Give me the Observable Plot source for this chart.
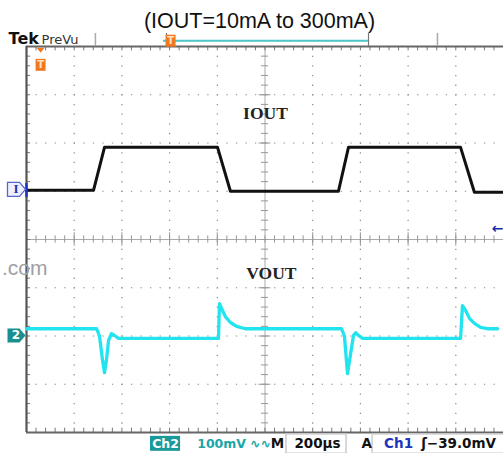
<!DOCTYPE html>
<html><head><meta charset="utf-8">
<script src="https://cdn.jsdelivr.net/npm/d3@7"></script>
<script src="https://cdn.jsdelivr.net/npm/@observablehq/plot@0.6"></script>
<style>
body{margin:0;background:#fff;width:503px;height:453px;overflow:hidden;font-family:Arial,"Liberation Sans",sans-serif}
#title{height:19px;padding-top:11px;line-height:20px;text-align:center;font-size:21.5px;padding-left:16px;color:#111;white-space:nowrap}
#chart svg{display:block}
</style></head><body>
<div id="title">(IOUT=10mA to 300mA)</div>
<div id="chart"></div>
<script>
// IOUT trace (black, channel 1): time in µs from the left edge, level in screen divisions
const ioutTime = [0, 281, 327, 801, 855, 1308, 1350, 1820, 1878, 2000];
const ioutDiv  = [1.02, 1.02, 1.91, 1.91, 1.0, 1.0, 1.91, 1.91, 0.98, 0.98];

// VOUT trace (cyan, channel 2)
const voutTime = [0, 294, 306, 319, 327, 335, 344, 356, 369, 386, 805, 809, 818, 834, 855, 881, 918,
                  1321, 1333, 1346, 1358, 1371, 1380, 1392, 1409, 1820, 1828, 1841, 1858, 1878, 1904, 1937, 1975];
const voutDiv  = [-1.85, -1.85, -2.0, -2.51, -2.76, -2.51, -2.09, -1.95, -1.99, -2.05, -2.05, -1.33, -1.43, -1.6, -1.72, -1.8, -1.85,
                  -1.85, -2.0, -2.78, -2.4, -1.99, -1.93, -1.99, -2.05, -2.05, -1.37, -1.47, -1.64, -1.74, -1.82, -1.85, -1.85];

// graticule (200 µs/div, 10 x 8 divisions)
const gridX = [200, 400, 600, 800, 1200, 1400, 1600, 1800];
const gridY = [-3, -2, -1, 1, 2, 3];
const minorX = d3.range(0, 2001, 40);
const minorY = d3.range(-20, 21).map(i => i / 5);

// labels
const traceLabels = [{t: 1002, v: 2.61, s: "IOUT"}, {t: 1027, v: -0.70, s: "VOUT"}];
const bottomTeal = [{t: 818, s: "100mV"}, {t: 981, s: "∿∿"}];
const bottomBlack = [{t: 1052, s: "M"}, {t: 1220, s: "200µs"}, {t: 1426, s: "A"}];

const iout = ioutTime.map((t, i) => ({t, v: ioutDiv[i]}));
const vout = voutTime.map((t, i) => ({t, v: voutDiv[i]}));

const pent = {draw(c){ c.moveTo(-9,-7); c.lineTo(3,-7); c.lineTo(9,0); c.lineTo(3,7); c.lineTo(-9,7); c.closePath(); }};
const box  = {draw(c){ c.moveTo(-5,-6); c.lineTo(5,-6); c.lineTo(5,6); c.lineTo(-5,6); c.closePath(); }};
const tri  = {draw(c){ c.moveTo(-4,-2.5); c.lineTo(4,-2.5); c.lineTo(0,2.5); c.closePath(); }};

const F = "DejaVu Sans, Verdana, sans-serif";

const chart = Plot.plot({
  width: 503, height: 423,
  marginLeft: 26, marginRight: 0, marginTop: 16, marginBottom: 21,
  x: {domain: [0, 2000], axis: null},
  y: {domain: [-4, 4], axis: null},
  style: {background: "#fff", overflow: "visible"},
  marks: [
    // dotted graticule
    Plot.ruleX(gridX, {stroke: "#8a8a8a", strokeWidth: 1.2, strokeDasharray: "1.3,8.35"}),
    Plot.ruleY(gridY, {stroke: "#8a8a8a", strokeWidth: 1.2, strokeDasharray: "1.3,8.24"}),
    // centre cross with ticks
    Plot.ruleX([1000], {stroke: "#aaa", strokeWidth: 1}),
    Plot.ruleY([0], {stroke: "#aaa", strokeWidth: 1}),
    Plot.ruleX(minorX, {y1: -0.075, y2: 0.075, stroke: "#999", strokeWidth: 1}),
    Plot.ruleY(minorY, {x1: 985, x2: 1015, stroke: "#999", strokeWidth: 1}),
    Plot.ruleX(gridX, {y1: -0.14, y2: 0.14, stroke: "#999", strokeWidth: 1}),
    Plot.ruleY(gridY, {x1: 975, x2: 1025, stroke: "#999", strokeWidth: 1}),
    // frame edges with ticks
    Plot.ruleX(minorX, {y1: 4, y2: 3.91, stroke: "#777", strokeWidth: 1}),
    Plot.ruleX(minorX, {y1: -4, y2: -3.91, stroke: "#777", strokeWidth: 1}),
    Plot.ruleY(minorY, {x1: 0, x2: 17, stroke: "#777", strokeWidth: 1}),
    Plot.ruleY([4, -4], {stroke: "#666", strokeWidth: 1.8}),
    Plot.ruleX([0], {stroke: "#555", strokeWidth: 2.2}),
    // text labels
    Plot.text(traceLabels, {x: "t", y: "v", text: "s", fontFamily: "Liberation Serif, DejaVu Serif, serif", fontSize: 17.5, fontWeight: "bold", fill: "#222"}),
    Plot.text([".com"], {x: 88, y: -0.6, text: d => d, textAnchor: "end", fontFamily: "Arial, Liberation Sans, sans-serif", fontSize: 21, fill: "#a0a0a0"}),
    // traces
    Plot.line(vout, {x: "t", y: "v", stroke: "#22e4ee", strokeWidth: 3.3, strokeLinejoin: "round"}),
    Plot.line(iout, {x: "t", y: "v", stroke: "#111", strokeWidth: 3, strokeLinejoin: "round"}),
    // channel markers
    Plot.ruleX([0], {y1: 0.87, y2: 1.16, stroke: "#2233cc", strokeWidth: 2.5}),
    Plot.dot([0], {x: -42, y: 1.04, symbol: pent, fill: "#eef0ff", stroke: "#5566cc", strokeWidth: 1.3}),
    Plot.text(["I"], {x: -44, y: 1.04, text: d => d, fontFamily: "Liberation Serif, serif", fontSize: 13, fill: "#2233aa", fontWeight: "bold"}),
    Plot.dot([0], {x: -42, y: -1.99, symbol: pent, fill: "#1a8f8f"}),
    Plot.text(["2"], {x: -44, y: -1.99, text: d => d, fontFamily: F, fontSize: 12, fill: "#fff", fontWeight: "bold"}),
    // trigger markers
    Plot.dot([0], {x: 59, y: 3.92, symbol: tri, fill: "#f07820"}),
    Plot.dot([0], {x: 59, y: 3.62, symbol: box, fill: "#f07820"}),
    Plot.text(["T"], {x: 59, y: 3.62, text: d => d, fontFamily: F, fontSize: 10, fill: "#ffe0c0", fontWeight: "bold"}),
    Plot.text(["←"], {x: 2000, y: 0.23, text: d => d, textAnchor: "end", fontFamily: F, fontSize: 14, fill: "#1133aa", fontWeight: "bold"}),
    // top status bar
    Plot.text(["Tek"], {x: -75, y: 4.15, text: d => d, textAnchor: "start", fontFamily: F, fontSize: 16, fontWeight: "bold", fill: "#111", letterSpacing: -0.5}),
    Plot.text(["PreVu"], {x: 63, y: 4.14, text: d => d, textAnchor: "start", fontFamily: F, fontSize: 13, fill: "#333", letterSpacing: 0.6}),
    Plot.ruleX([289, 1723], {y1: 4.0, y2: 4.27, stroke: "#aaa", strokeWidth: 1.5}),
    Plot.ruleX([587, 1434], {y1: 4.0, y2: 4.27, stroke: "#777", strokeWidth: 1.2}),
    Plot.ruleY([4.12], {x1: 574, x2: 1434, stroke: "#4cc6c6", strokeWidth: 2}),
    Plot.dot([0], {x: 604, y: 4.12, symbol: box, fill: "#f07820"}),
    Plot.text(["T"], {x: 604, y: 4.12, text: d => d, fontFamily: F, fontSize: 10, fill: "#ffe0c0", fontWeight: "bold"}),
    // bottom status bar
    Plot.rect([0], {x1: 520, x2: 646, y1: -4.08, y2: -4.39, fill: "#1a9999"}),
    Plot.text(["Ch2"], {x: 583, y: -4.23, text: d => d, fontFamily: F, fontSize: 12.5, fontWeight: "bold", fill: "#fff"}),
    Plot.rect([0], {x1: 1090, x2: 1342, y1: -4.04, y2: -4.44, fill: "none", stroke: "#ccc", strokeWidth: 1.5}),
    Plot.rect([0], {x1: 1451, x2: 2010, y1: -4.04, y2: -4.44, fill: "none", stroke: "#ccc", strokeWidth: 1.5}),
    Plot.text(bottomTeal, {x: "t", y: -4.23, text: "s", fontFamily: F, fontSize: 12.5, fontWeight: "bold", fill: "#1aa6a6"}),
    Plot.text(bottomBlack, {x: "t", y: -4.23, text: "s", fontFamily: F, fontSize: 13.5, fontWeight: "bold", fill: "#111", letterSpacing: 0.6}),
    Plot.text(["Ch1"], {x: 1560, y: -4.23, text: d => d, fontFamily: F, fontSize: 13.5, fontWeight: "bold", fill: "#2233bb", letterSpacing: 0.4}),
    Plot.text(["ʃ−39.0mV"], {x: 1655, y: -4.23, text: d => d, textAnchor: "start", fontFamily: F, fontSize: 13.5, fontWeight: "bold", fill: "#111", letterSpacing: 0.8})
  ]
});
document.getElementById("chart").append(chart);
</script>
</body></html>
